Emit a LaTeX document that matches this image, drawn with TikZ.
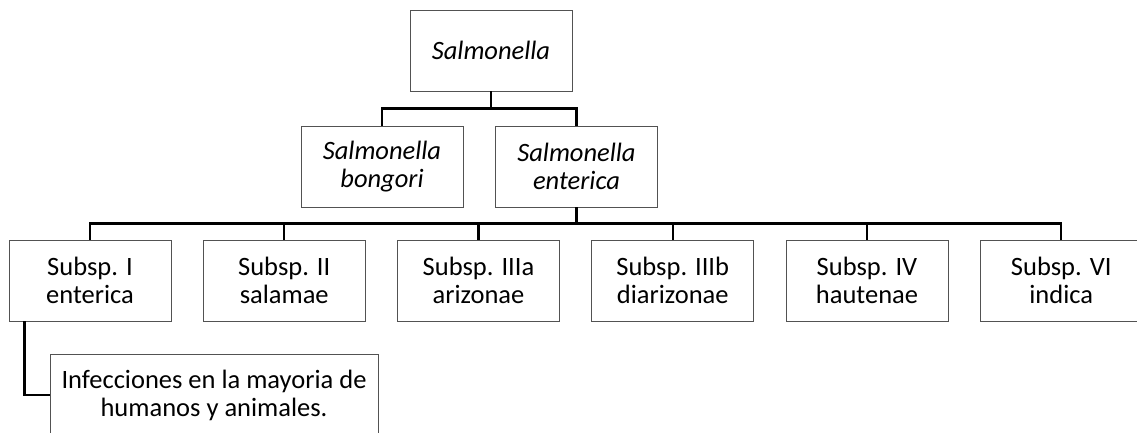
\documentclass[tikz,border=0pt]{standalone}
\usepackage{fontspec}
\setmainfont{Carlito}
\begin{document}
\begin{tikzpicture}[x=1pt,y=1pt,
  box/.style={draw=black!68, line width=0.9pt, minimum width=162pt, minimum height=81pt, align=center, inner sep=0pt, font=\fontsize{26.5}{28}\selectfont},
  conn/.style={draw=black, line width=2.3pt}]
\useasboundingbox (0,0) rectangle (1137,-432);
\clip (0,0) rectangle (1137,-432);
\fill[white] (0,0) rectangle (1137,-432);
\node[box] (top) at (491,-50.5) {\itshape Salmonella};
\node[box] (bon) at (382,-166.5) {\itshape Salmonella\\\itshape bongori};
\node[box] (ent) at (576.5,-166.5) {\itshape Salmonella\\\itshape enterica};
\node[box] (s1) at (90,-280.5) {Subsp. I\\enterica};
\node[box] (s2) at (284.25,-280.5) {Subsp. II\\salamae};
\node[box] (s3) at (478.5,-280.5) {Subsp. IIIa\\arizonae};
\node[box] (s4) at (672.75,-280.5) {Subsp. IIIb\\diarizonae};
\node[box] (s5) at (867,-280.5) {Subsp. IV\\hautenae};
\node[box] (s6) at (1061.25,-280.5) {Subsp. VI\\indica};
\node[box, minimum width=328pt, minimum height=82pt] (inf) at (214,-395) {Infecciones en la mayoria de\\humanos y animales.};
\draw[conn] (top.south) -- ++(0,-17) coordinate (j1);
\draw[conn] (bon.north) |- (j1) -| (ent.north);
\draw[conn] (ent.south) -- ++(0,-16) coordinate (j2);
\draw[conn] (s1.north) |- (j2) -| (s6.north);
\foreach \n in {s2,s3,s4,s5} \draw[conn] (\n.north) -- (\n.north |- j2);
\draw[conn] ([xshift=16pt]s1.south west) |- (inf.west);
\end{tikzpicture}
\end{document}
